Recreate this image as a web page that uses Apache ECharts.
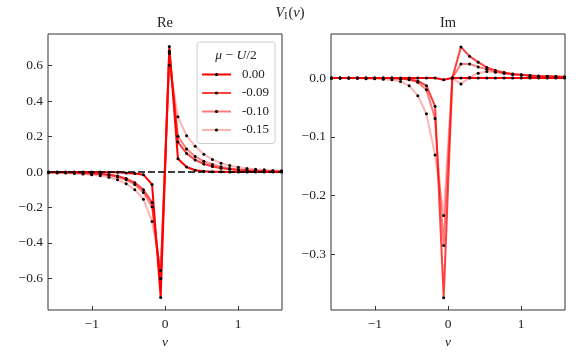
<!DOCTYPE html>
<html>
<head>
<meta charset="utf-8">
<script src="https://cdn.jsdelivr.net/npm/echarts@6.0.0/dist/echarts.min.js"></script>
<style>
  html, body { margin: 0; padding: 0; background: #fff; }
  #chart { width: 580px; height: 360px; }
</style>
</head>
<body>
<div id="chart"></div>
<script>
// Matsubara-like frequency grid
var nu = [-1.593, -1.475, -1.357, -1.239, -1.121, -1.003, -0.885, -0.767, -0.649, -0.531, -0.413, -0.295, -0.177, -0.059,
  0.059, 0.177, 0.295, 0.413, 0.531, 0.649, 0.767, 0.885, 1.003, 1.121, 1.239, 1.357, 1.475, 1.593];

var seriesNames = ['0.00', '-0.09', '-0.10', '-0.15'];
var lineColors = ['rgba(255,0,0,1)', 'rgba(255,0,0,0.75)', 'rgba(255,0,0,0.52)', 'rgba(255,0,0,0.3)'];

// real part
var re000 = [0, 0, 0, 0, 0, 0, 0, -0.001, -0.002, -0.005, -0.008, -0.015, -0.07, -0.707,
  0.707, 0.075, 0.028, 0.01, 0.004, 0.002, 0.001, 0, 0, 0, 0, 0, 0, 0];
var re009 = [-0.002, -0.002, -0.003, -0.004, -0.005, -0.007, -0.01, -0.015, -0.023, -0.037, -0.06, -0.1, -0.172, -0.601,
  0.681, 0.169, 0.105, 0.068, 0.045, 0.031, 0.021, 0.015, 0.011, 0.008, 0.006, 0.004, 0.003, 0.002];
var re010 = [-0.002, -0.002, -0.003, -0.004, -0.006, -0.008, -0.012, -0.018, -0.028, -0.044, -0.07, -0.115, -0.196, -0.6,
  0.668, 0.201, 0.13, 0.088, 0.06, 0.042, 0.029, 0.02, 0.014, 0.01, 0.007, 0.005, 0.004, 0.003];
var re015 = [-0.004, -0.005, -0.006, -0.008, -0.011, -0.015, -0.021, -0.03, -0.044, -0.066, -0.1, -0.153, -0.279, -0.556,
  0.602, 0.311, 0.205, 0.145, 0.1, 0.07, 0.05, 0.036, 0.027, 0.02, 0.015, 0.012, 0.009, 0.007];

// imaginary part
var im000 = [0, 0, 0, 0, 0, 0, 0, 0, 0, 0, 0, 0, 0, -0.003,
  0, 0, 0, 0, 0, 0, 0, 0, 0, 0, 0, 0, 0, 0];
var im009 = [0, 0, 0, 0, 0, 0, 0, 0, -0.001, -0.002, -0.005, -0.013, -0.048, -0.374,
  0, 0.053, 0.037, 0.027, 0.018, 0.013, 0.0095, 0.007, 0.0055, 0.0045, 0.0035, 0.003, 0.0025, 0.002];
var im010 = [0, 0, 0, 0, 0, 0, 0, 0, -0.001, -0.003, -0.007, -0.02, -0.069, -0.285,
  0, 0.024, 0.024, 0.019, 0.015, 0.011, 0.008, 0.006, 0.005, 0.004, 0.003, 0.0025, 0.002, 0.0015];
var im015 = [0, 0, 0, 0, -0.001, -0.001, -0.002, -0.003, -0.006, -0.013, -0.03, -0.061, -0.131, -0.234,
  0, -0.01, 0.001, 0.008, 0.011, 0.01, 0.008, 0.0065, 0.005, 0.004, 0.003, 0.0025, 0.002, 0.0015];

var zeroX = [-1.6, 1.6];
var zeroY = [0, 0];

var xTicks = [-1, 0, 1];
var reTicks = [-0.6, -0.4, -0.2, 0, 0.2, 0.4, 0.6];
var imTicks = [-0.3, -0.2, -0.1, 0];

var FONT = 'Liberation Serif';

function pairs(xs, ys) {
  return xs.map(function (x, i) { return [x, ys[i]]; });
}
function fmt1(v) {
  return (v < -1e-9 ? '\u2212' : '') + Math.abs(v).toFixed(1);
}
function fmtInt(v) {
  return (v < 0 ? '\u2212' : '') + Math.abs(Math.round(v));
}

function xAxisOf(idx) {
  return {
    type: 'value', gridIndex: idx, min: -1.6, max: 1.6, position: 'bottom',
    name: '\u03bd', nameLocation: 'middle', nameGap: 24,
    nameTextStyle: { fontFamily: FONT, fontStyle: 'italic', fontSize: 13.5, color: '#222' },
    axisLine: { show: false, onZero: false },
    splitLine: { show: false },
    axisTick: { inside: true, length: 4, customValues: xTicks, lineStyle: { color: '#333' } },
    axisLabel: { customValues: xTicks, formatter: fmtInt, fontFamily: FONT, fontSize: 13.5, color: '#222', margin: 7 }
  };
}
function yAxisOf(idx, min, max, ticks) {
  return {
    type: 'value', gridIndex: idx, min: min, max: max, position: 'left',
    axisLine: { show: false, onZero: false },
    splitLine: { show: false },
    axisTick: { inside: true, length: 4, customValues: ticks, lineStyle: { color: '#333' } },
    axisLabel: { customValues: ticks, formatter: fmt1, fontFamily: FONT, fontSize: 13.5, color: '#222', margin: 5 }
  };
}

function lineSeries(name, idx, ys, k) {
  return {
    name: name, type: 'line', xAxisIndex: idx, yAxisIndex: idx,
    data: pairs(nu, ys),
    symbol: 'circle', symbolSize: 3, showSymbol: true,
    itemStyle: { color: '#000' },
    lineStyle: { color: lineColors[k], width: 2 },
    z: 2 + k,
    emphasis: { disabled: true }
  };
}

var chartDom = document.getElementById('chart');
var myChart = echarts.init(chartDom, null, { renderer: 'canvas' });

var reData = [re000, re009, re010, re015];
var imData = [im000, im009, im010, im015];
var series = [];
seriesNames.forEach(function (n, k) { series.push(lineSeries(n, 0, reData[k], k)); });
seriesNames.forEach(function (n, k) { series.push(lineSeries(n, 1, imData[k], k)); });
series.push({
  name: 'zero', type: 'line', xAxisIndex: 0, yAxisIndex: 0,
  data: pairs(zeroX, zeroY), symbol: 'none', z: 10,
  lineStyle: { color: '#000', width: 1.6, type: [7, 3] },
  emphasis: { disabled: true }
});

var option = {
  animation: false,
  textStyle: { fontFamily: FONT },
  grid: [
    { left: 48, top: 34, width: 234, height: 276, show: true, borderColor: '#333', borderWidth: 1, backgroundColor: 'transparent' },
    { left: 331, top: 34, width: 234, height: 276, show: true, borderColor: '#333', borderWidth: 1, backgroundColor: 'transparent' }
  ],
  xAxis: [xAxisOf(0), xAxisOf(1)],
  yAxis: [yAxisOf(0, -0.778, 0.778, reTicks), yAxisOf(1, -0.395, 0.075, imTicks)],
  legend: {
    data: seriesNames,
    orient: 'vertical',
    left: 197, top: 42,
    padding: [26, 6, 7, 4],
    itemWidth: 29, itemHeight: 4, itemGap: 5.5,
    backgroundColor: 'rgba(255,255,255,0.85)',
    borderColor: '#ccc', borderWidth: 1, borderRadius: 3,
    selectedMode: false,
    textStyle: { fontFamily: FONT, fontSize: 13, color: '#222', padding: [0, 0, 0, 6] },
    z: 20
  },
  graphic: [
    { type: 'text', x: 290, y: 13, z: 30, style: {
      text: '{v|V}{s|I}{p|(}{i|\u03bd}{p|)}', align: 'center', verticalAlign: 'middle',
      rich: {
        v: { fontFamily: FONT, fontStyle: 'italic', fontSize: 14.5, fill: '#222' },
        s: { fontFamily: FONT, fontSize: 9.5, fill: '#222', verticalAlign: 'bottom', padding: [6, 1, 0, 0] },
        p: { fontFamily: FONT, fontSize: 14.5, fill: '#222' },
        i: { fontFamily: FONT, fontStyle: 'italic', fontSize: 14.5, fill: '#222' }
      } } },
    { type: 'text', x: 165, y: 23, z: 30, style: { text: 'Re', align: 'center', verticalAlign: 'middle', font: '14.5px "Liberation Serif"', fill: '#222' } },
    { type: 'text', x: 448, y: 23, z: 30, style: { text: 'Im', align: 'center', verticalAlign: 'middle', font: '14.5px "Liberation Serif"', fill: '#222' } },
    { type: 'text', x: 236, y: 55, z: 30, style: {
      text: '{i|\u03bc} {n|\u2212} {i|U}{n|/2}', align: 'center', verticalAlign: 'middle',
      rich: {
        i: { fontFamily: FONT, fontStyle: 'italic', fontSize: 13.5, fill: '#222' },
        n: { fontFamily: FONT, fontSize: 13.5, fill: '#222' }
      } } }
  ],
  series: series
};

option && myChart.setOption(option);
</script>
</body>
</html>
